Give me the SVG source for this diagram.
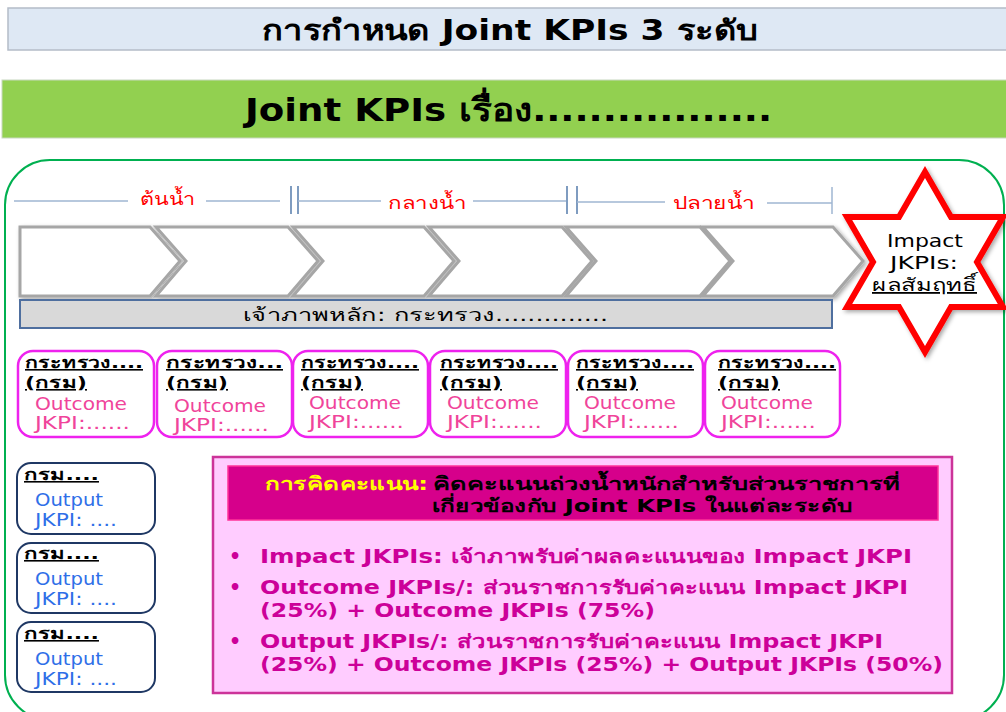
<svg xmlns="http://www.w3.org/2000/svg" width="1006" height="712" viewBox="0 0 1006 712">
<defs>
<style>
.th{font-family:"DejaVu Sans","Noto Sans","Liberation Sans",sans-serif}
.title{font-size:28px;font-weight:bold;fill:#000}
.big{font-size:32px;font-weight:bold;fill:#000}
.phase{font-size:18px;fill:#ff0000}
.tl{stroke:#9fb6d2;stroke-width:1.5}
.bar{stroke:#7f9cc0;stroke-width:2}
.chev{fill:#fff;stroke:#a6a6a6;stroke-width:3}
.ocbox{fill:#fff;stroke:#ee22ee;stroke-width:2.5}
.opbox{fill:#fff;stroke:#1f3864;stroke-width:2}
.hd{font-size:16px;font-weight:bold;fill:#000;text-decoration:underline}
.oc{font-size:18px;fill:#f0449a}
.op{font-size:18px;fill:#2f6fe8}
.bl{font-size:19px;font-weight:bold;fill:#cc0099}
.hdr{font-size:18px;font-weight:bold}
</style>
<filter id="sh" x="-10%" y="-10%" width="130%" height="130%">
<feDropShadow dx="2" dy="2" stdDeviation="2" flood-color="#000" flood-opacity="0.35"/>
</filter>
</defs>
<rect width="1006" height="712" fill="#fff"/>

<g id="title">
<rect x="8" y="8" width="1000" height="42" fill="#dee8f4" stroke="#b4bcc8" stroke-width="1.5"/>
<text class="th title" x="262" y="40" textLength="496" lengthAdjust="spacingAndGlyphs">การกำหนด Joint KPIs 3 ระดับ</text>
</g>

<g id="subject">
<rect x="2" y="80" width="1006" height="58" fill="#92d050" stroke="#c8d8c0" stroke-width="1"/>
<text class="th big" x="245" y="121" textLength="527" lengthAdjust="spacingAndGlyphs">Joint KPIs เรื่อง.................</text>
</g>

<g id="frame">
<rect x="5" y="160" width="999" height="560" rx="45" ry="45" fill="none" stroke="#00b050" stroke-width="2"/>
</g>

<g id="timeline">
<line class="tl" x1="14" y1="201" x2="128" y2="201"/>
<line class="tl" x1="206" y1="201" x2="280" y2="201"/>
<line class="bar" x1="291" y1="186" x2="291" y2="214"/>
<line class="bar" x1="298" y1="186" x2="298" y2="214"/>
<line class="tl" x1="298" y1="201" x2="381" y2="201"/>
<line class="tl" x1="473" y1="201" x2="566" y2="201"/>
<line class="bar" x1="567" y1="186" x2="567" y2="214"/>
<line class="bar" x1="577" y1="186" x2="577" y2="214"/>
<line class="tl" x1="577" y1="202" x2="665" y2="202"/>
<line class="tl" x1="767" y1="203" x2="832" y2="203"/>
<line class="tl" x1="832" y1="187" x2="832" y2="214"/>
<text class="th phase" x="140" y="205" textLength="55" lengthAdjust="spacingAndGlyphs">ต้นน้ำ</text>
<text class="th phase" x="388" y="209" textLength="78" lengthAdjust="spacingAndGlyphs">กลางน้ำ</text>
<text class="th phase" x="673" y="209" textLength="82" lengthAdjust="spacingAndGlyphs">ปลายน้ำ</text>
</g>

<g id="chevrons" filter="url(#sh)">
<path class="chev" d="M20,227 H150 L180,261 L150,296 H20 Z"/>
<path class="chev" d="M156,227 H288 L318,261 L288,296 H156 L186,261 Z"/>
<path class="chev" d="M293,227 H424 L454,261 L424,296 H293 L323,261 Z"/>
<path class="chev" d="M429,227 H562 L592,261 L562,296 H429 L459,261 Z"/>
<path class="chev" d="M566,227 H700 L730,261 L700,296 H566 L596,261 Z"/>
<path class="chev" d="M703,227 H833 L863,261 L833,296 H703 L733,261 Z"/>
</g>

<g id="lead">
<rect x="20" y="300" width="812" height="28" fill="#d9d9d9" stroke="#4f6f9f" stroke-width="2"/>
<text class="th" x="243" y="321" font-size="18" fill="#000" textLength="365" lengthAdjust="spacingAndGlyphs">เจ้าภาพหลัก: กระทรวง..............</text>
</g>

<g id="impact">
<polygon points="925,172 951,217 1003,217 977,262 1003,307 951,307 925,352 899,307 847,307 873,262 847,217 899,217" fill="#fff" stroke="#ff0000" stroke-width="6" stroke-linejoin="miter" filter="url(#sh)"/>
<text class="th" x="887" y="247" font-size="18" fill="#000" textLength="76" lengthAdjust="spacingAndGlyphs">Impact</text>
<text class="th" x="890" y="269" font-size="18" fill="#000" textLength="68" lengthAdjust="spacingAndGlyphs">JKPIs:</text>
<text class="th" x="872" y="291" font-size="18" fill="#000" text-decoration="underline" textLength="105" lengthAdjust="spacingAndGlyphs">ผลสัมฤทธิ์</text>
</g>

<g id="outcome1">
<rect class="ocbox" x="18" y="351" width="136" height="86" rx="15"/>
<text class="th hd" x="25" y="368" textLength="118" lengthAdjust="spacingAndGlyphs">กระทรวง....</text>
<text class="th hd" x="25" y="388" textLength="62" lengthAdjust="spacingAndGlyphs">(กรม)</text>
<text class="th oc" x="35" y="410" textLength="92" lengthAdjust="spacingAndGlyphs">Outcome</text>
<text class="th oc" x="35" y="429" textLength="95" lengthAdjust="spacingAndGlyphs">JKPI:......</text>
</g>
<g id="outcome2">
<rect class="ocbox" x="157" y="351" width="135" height="86" rx="15"/>
<text class="th hd" x="166" y="368" textLength="117" lengthAdjust="spacingAndGlyphs">กระทรวง...</text>
<text class="th hd" x="166" y="388" textLength="62" lengthAdjust="spacingAndGlyphs">(กรม)</text>
<text class="th oc" x="174" y="412" textLength="92" lengthAdjust="spacingAndGlyphs">Outcome</text>
<text class="th oc" x="174" y="431" textLength="95" lengthAdjust="spacingAndGlyphs">JKPI:......</text>
</g>
<g id="outcome3">
<rect class="ocbox" x="293" y="351" width="135" height="86" rx="15"/>
<text class="th hd" x="301" y="368" textLength="118" lengthAdjust="spacingAndGlyphs">กระทรวง....</text>
<text class="th hd" x="301" y="388" textLength="62" lengthAdjust="spacingAndGlyphs">(กรม)</text>
<text class="th oc" x="309" y="409" textLength="92" lengthAdjust="spacingAndGlyphs">Outcome</text>
<text class="th oc" x="309" y="428" textLength="95" lengthAdjust="spacingAndGlyphs">JKPI:......</text>
</g>
<g id="outcome4">
<rect class="ocbox" x="430" y="351" width="136" height="86" rx="15"/>
<text class="th hd" x="440" y="368" textLength="118" lengthAdjust="spacingAndGlyphs">กระทรวง....</text>
<text class="th hd" x="440" y="388" textLength="62" lengthAdjust="spacingAndGlyphs">(กรม)</text>
<text class="th oc" x="447" y="409" textLength="92" lengthAdjust="spacingAndGlyphs">Outcome</text>
<text class="th oc" x="447" y="428" textLength="95" lengthAdjust="spacingAndGlyphs">JKPI:......</text>
</g>
<g id="outcome5">
<rect class="ocbox" x="568" y="351" width="135" height="86" rx="15"/>
<text class="th hd" x="576" y="368" textLength="118" lengthAdjust="spacingAndGlyphs">กระทรวง....</text>
<text class="th hd" x="576" y="388" textLength="62" lengthAdjust="spacingAndGlyphs">(กรม)</text>
<text class="th oc" x="584" y="409" textLength="92" lengthAdjust="spacingAndGlyphs">Outcome</text>
<text class="th oc" x="584" y="428" textLength="95" lengthAdjust="spacingAndGlyphs">JKPI:......</text>
</g>
<g id="outcome6">
<rect class="ocbox" x="705" y="351" width="135" height="86" rx="15"/>
<text class="th hd" x="718" y="368" textLength="118" lengthAdjust="spacingAndGlyphs">กระทรวง....</text>
<text class="th hd" x="718" y="388" textLength="62" lengthAdjust="spacingAndGlyphs">(กรม)</text>
<text class="th oc" x="721" y="409" textLength="92" lengthAdjust="spacingAndGlyphs">Outcome</text>
<text class="th oc" x="721" y="428" textLength="95" lengthAdjust="spacingAndGlyphs">JKPI:......</text>
</g>

<g id="output1">
<rect class="opbox" x="17" y="463" width="138" height="71" rx="14"/>
<text class="th hd" x="24" y="480" textLength="75" lengthAdjust="spacingAndGlyphs">กรม....</text>
<text class="th op" x="35" y="506" textLength="68" lengthAdjust="spacingAndGlyphs">Output</text>
<text class="th op" x="35" y="526" textLength="82" lengthAdjust="spacingAndGlyphs">JKPI: ....</text>
</g>
<g id="output2">
<rect class="opbox" x="17" y="543" width="138" height="70" rx="14"/>
<text class="th hd" x="24" y="559" textLength="75" lengthAdjust="spacingAndGlyphs">กรม....</text>
<text class="th op" x="35" y="585" textLength="68" lengthAdjust="spacingAndGlyphs">Output</text>
<text class="th op" x="35" y="605" textLength="82" lengthAdjust="spacingAndGlyphs">JKPI: ....</text>
</g>
<g id="output3">
<rect class="opbox" x="17" y="622" width="138" height="70" rx="14"/>
<text class="th hd" x="24" y="639" textLength="75" lengthAdjust="spacingAndGlyphs">กรม....</text>
<text class="th op" x="35" y="665" textLength="68" lengthAdjust="spacingAndGlyphs">Output</text>
<text class="th op" x="35" y="685" textLength="82" lengthAdjust="spacingAndGlyphs">JKPI: ....</text>
</g>

<g id="scoring">
<rect x="213" y="457" width="739" height="236" fill="#ffccff" stroke="#cc3399" stroke-width="2.5"/>
<rect x="228" y="466" width="710" height="54" fill="#d6008b" stroke="#ff3399" stroke-width="1.5"/>
<text class="th hdr" x="265" y="490" fill="#ffff00" textLength="163" lengthAdjust="spacingAndGlyphs">การคิดคะแนน:</text>
<text class="th hdr" x="433" y="490" fill="#000" textLength="467" lengthAdjust="spacingAndGlyphs">คิดคะแนนถ่วงน้ำหนักสำหรับส่วนราชการที่</text>
<text class="th hdr" x="432" y="512" fill="#000" textLength="420" lengthAdjust="spacingAndGlyphs">เกี่ยวข้องกับ Joint KPIs ในแต่ละระดับ</text>
<text class="th bl" x="229" y="563">•</text>
<text class="th bl" x="260" y="563" textLength="652" lengthAdjust="spacingAndGlyphs">Impact JKPIs:  เจ้าภาพรับค่าผลคะแนนของ Impact JKPI</text>
<text class="th bl" x="229" y="594">•</text>
<text class="th bl" x="260" y="594" textLength="648" lengthAdjust="spacingAndGlyphs">Outcome JKPIs/: ส่วนราชการรับค่าคะแนน Impact JKPI</text>
<text class="th bl" x="260" y="617" textLength="395" lengthAdjust="spacingAndGlyphs">(25%) + Outcome JKPIs (75%)</text>
<text class="th bl" x="229" y="648">•</text>
<text class="th bl" x="260" y="648" textLength="623" lengthAdjust="spacingAndGlyphs">Output JKPIs/: ส่วนราชการรับค่าคะแนน Impact JKPI</text>
<text class="th bl" x="260" y="671" textLength="683" lengthAdjust="spacingAndGlyphs">(25%) + Outcome JKPIs (25%) + Output JKPIs (50%)</text>
</g>
</svg>
